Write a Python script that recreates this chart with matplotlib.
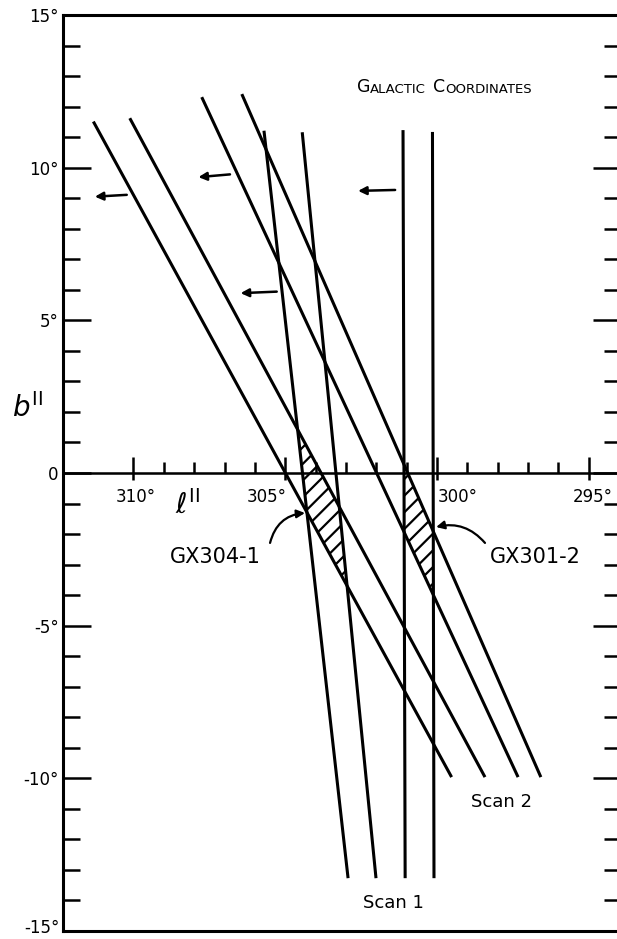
import numpy as np
import matplotlib
matplotlib.use("Agg")
import matplotlib.pyplot as plt
from matplotlib.patches import Polygon

plt.rcParams['font.family'] = 'DejaVu Sans'
plt.rcParams['hatch.linewidth'] = 1.6
plt.rcParams['hatch.color'] = 'black'

# scan lines in galactic coordinates (l, b in degrees), top and bottom ends
scan1_l_top = [305.70, 304.44, 301.12, 300.15]
scan1_b_top = [11.21, 11.16, 11.23, 11.17]
scan1_l_bot = [302.93, 302.01, 301.05, 300.10]
scan1_b_bot = [-13.27, -13.27, -13.27, -13.27]

scan2_l_top = [311.32, 310.12, 307.75, 306.43]
scan2_b_top = [11.51, 11.62, 12.31, 12.41]
scan2_l_bot = [299.52, 298.42, 297.33, 296.58]
scan2_b_bot = [-9.96, -9.96, -9.96, -9.96]

# scan direction arrows (tail -> head)
arrow_l_tail = [310.22, 306.82, 305.28, 301.38]
arrow_b_tail = [9.11, 9.78, 5.94, 9.27]
arrow_l_head = [311.27, 307.86, 306.47, 302.60]
arrow_b_head = [9.05, 9.69, 5.89, 9.24]

# sources: error boxes formed by pairs of scan 1 / scan 2 lines
source_names = ["GX304-1", "GX301-2"]
source_lines = [(0, 1), (2, 3)]

# axis ticks
y_ticks = [15, 10, 5, 0, -5, -10, -15]
y_ticklabels = ["15°", "10°", "5°", "0", "-5°", "-10°", "-15°"]
x_major = [310, 305, 300, 295]
x_ticklabels = ["310°", "305°", "300°", "295°"]
x_minor = [309, 308, 307, 306, 304, 303, 302, 301, 299, 298, 297, 296]


def intersect(p1, p2, q1, q2):
    p1, p2, q1, q2 = map(np.asarray, (p1, p2, q1, q2))
    d1 = p2 - p1
    d2 = q2 - q1
    A = np.array([d1, -d2]).T
    t = np.linalg.solve(A, q1 - p1)
    return p1 + t[0] * d1


fig = plt.figure(figsize=(6.17, 9.39), dpi=100)
# right frame edge sits just off the page, as in the original scan
ax = fig.add_axes([63 / 617, 8 / 939, 558 / 617, 916 / 939])
ax.set_xlim(312.32, 293.94)
ax.set_ylim(-15, 15)

for side in ['left', 'top', 'bottom', 'right']:
    ax.spines[side].set_linewidth(2.2)

# last label drawn by hand so it isn't cut at the page edge
ax.set_yticks(y_ticks)
ax.set_yticklabels(y_ticklabels[:-1] + [""], fontsize=12)
ax.annotate(y_ticklabels[-1], xy=(0, y_ticks[-1]), xycoords=('axes fraction', 'data'),
            xytext=(-2.5, 2.5), textcoords='offset points', ha='right', va='center',
            fontsize=12, annotation_clip=False)
ax.set_yticks(np.arange(-14, 15), minor=True)
ax.tick_params(axis='y', which='both', direction='in', left=True, right=True,
               width=1.8, pad=3)
ax.tick_params(axis='y', which='major', length=20)
ax.tick_params(axis='y', which='minor', length=12)
ax.tick_params(axis='x', which='both', bottom=False, top=False, labelbottom=False)

# l axis drawn along b = 0
sec_up = ax.secondary_xaxis(0.5)
sec_up.xaxis.set_ticks_position('bottom')
sec_up.set_xticks(x_major)
sec_up.set_xticks(x_minor, minor=True)
sec_up.tick_params(which='both', direction='in', width=1.8, labelbottom=False, labeltop=False)
sec_up.tick_params(which='major', length=11.5)
sec_up.tick_params(which='minor', length=8)
for s in sec_up.spines.values():
    s.set_linewidth(1.8)

sec_dn = ax.secondary_xaxis(0.5)
sec_dn.xaxis.set_ticks_position('bottom')
sec_dn.set_xticks(x_major)
sec_dn.set_xticks([], minor=True)
sec_dn.tick_params(which='major', direction='out', length=5, width=1.8,
                   labelbottom=False, labeltop=False)

label_dx = [1.5, -13, 15, 3]
for tick, lab, dx in zip(x_major, x_ticklabels, label_dx):
    ax.annotate(lab, xy=(tick, 0), xytext=(dx, -17), textcoords='offset points',
                ha='center', va='center', fontsize=12)

ax.text(308.2, -1.05, r"$\ell^{\mathrm{II}}$", fontsize=20, ha='center', va='center')
ax.text(313.48, 2.13, r"$\mathit{b}^{\mathrm{II}}$", fontsize=20, ha='center',
        va='center', clip_on=False)

# scan lines
scan1 = [((lt, bt), (lb, bb)) for lt, bt, lb, bb in zip(scan1_l_top, scan1_b_top, scan1_l_bot, scan1_b_bot)]
scan2 = [((lt, bt), (lb, bb)) for lt, bt, lb, bb in zip(scan2_l_top, scan2_b_top, scan2_l_bot, scan2_b_bot)]
for (p, q) in scan1 + scan2:
    ax.plot([p[0], q[0]], [p[1], q[1]], color='k', lw=2.2, solid_capstyle='butt')

for lt, bt, lh, bh in zip(arrow_l_tail, arrow_b_tail, arrow_l_head, arrow_b_head):
    ax.annotate('', xy=(lh, bh), xytext=(lt, bt),
                arrowprops=dict(arrowstyle='-|>', color='k', lw=1.8, mutation_scale=12,
                                shrinkA=0, shrinkB=0))

# hatched source boxes
for a, b in source_lines:
    verts = [intersect(*scan1[a], *scan2[b]), intersect(*scan1[a], *scan2[a]),
             intersect(*scan1[b], *scan2[a]), intersect(*scan1[b], *scan2[b])]
    ax.add_patch(Polygon(verts, closed=True, facecolor='none', edgecolor='k',
                         lw=0, hatch='//'))

# source labels
label_pos = [(307.31, -2.75), (296.77, -2.75)]
arrow_tail = [(305.50, -2.29), (298.42, -2.29)]
arrow_head = [(304.35, -1.31), (300.03, -1.77)]
arrow_rad = [-0.35, 0.3]
for name, pos, tail, head, rad in zip(source_names, label_pos, arrow_tail, arrow_head, arrow_rad):
    ax.text(pos[0], pos[1], name, fontsize=15, ha='center', va='center')
    ax.annotate('', xy=head, xytext=tail,
                arrowprops=dict(arrowstyle='-|>', color='k', lw=1.6, mutation_scale=12,
                                shrinkA=0, shrinkB=0, connectionstyle=f'arc3,rad={rad}'))

ax.text(301.45, -14.08, "Scan 1", fontsize=13, ha='center', va='center')
ax.text(297.86, -10.78, "Scan 2", fontsize=13, ha='center', va='center')

# title in small capitals
prev = ax.text(302.64, 12.48, "G", fontsize=12.5, va='baseline', ha='left')
for s, size, gap in [("ALACTIC", 9.5, 0), ("C", 12.5, 5), ("OORDINATES", 9.5, 0)]:
    prev = ax.annotate(s, xy=(1, 0), xycoords=prev, xytext=(gap, 0),
                       textcoords='offset points', fontsize=size, va='bottom', ha='left')

fig.savefig("out.png", dpi=100)
